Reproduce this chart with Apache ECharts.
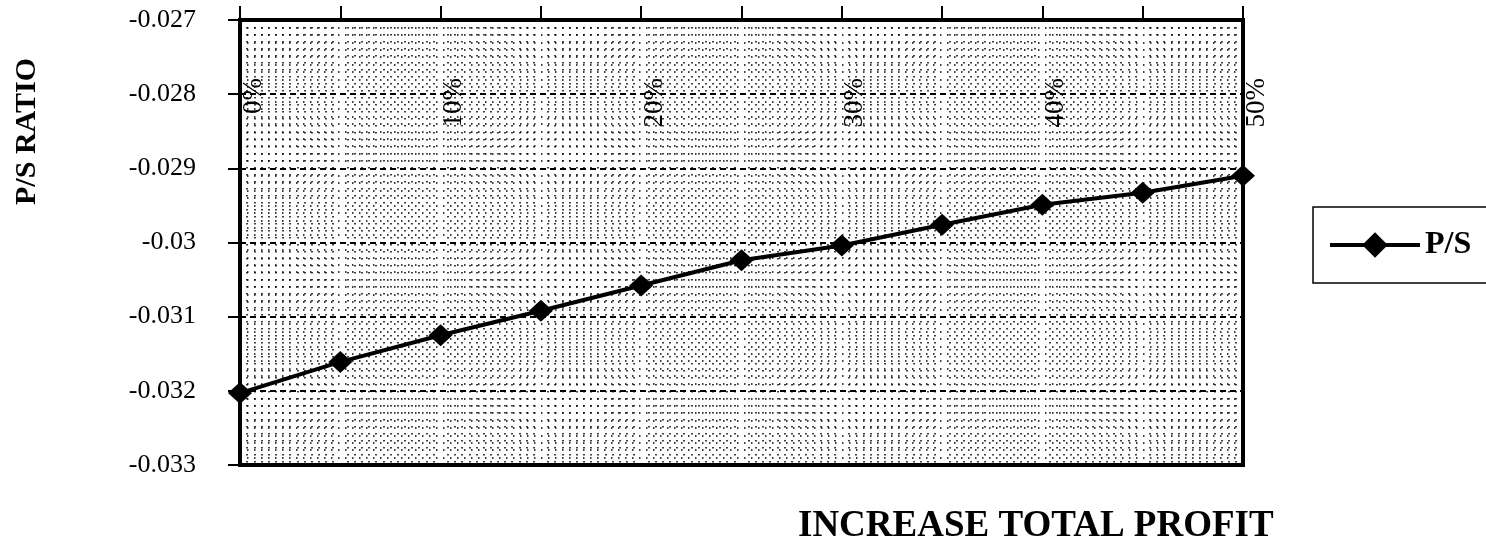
<!DOCTYPE html>
<html>
<head>
<meta charset="utf-8">
<script src="https://cdn.jsdelivr.net/npm/echarts@6/dist/echarts.min.js"></script>
<style>
  html, body { margin: 0; padding: 0; background: #fff; }
  #chart { width: 1486px; height: 552px; }
</style>
</head>
<body>
<div id="chart"></div>
<script>
// increase in total profit (%), one point every 5%
var increaseSteps = [0, 5, 10, 15, 20, 25, 30, 35, 40, 45, 50];
// P/S ratio
var psValues = [-0.03203, -0.03161, -0.03125, -0.03092, -0.03058, -0.03024,
                -0.03004, -0.02976, -0.02949, -0.02933, -0.02910];

var serif = '"Liberation Serif", "DejaVu Serif", serif';

var chart = echarts.init(document.getElementById('chart'));

chart.setOption({
    animation: false,
    backgroundColor: '#fff',
    grid: {
        left: 240, right: 243, top: 20, bottom: 87,
        show: true,
        borderColor: '#000',
        borderWidth: 4,
        backgroundColor: '#fff'
    },
    title: {
        text: 'INCREASE TOTAL PROFIT',
        left: 793, top: 503,
        textStyle: { fontFamily: serif, fontSize: 37, fontWeight: 'bold', color: '#000' }
    },
    graphic: [{
        type: 'text',
        left: 12, top: 58,
        rotation: Math.PI / 2,
        style: { text: 'P/S RATIO', font: 'bold 30px ' + serif, fill: '#000' }
    }],
    legend: {
        data: ['P/S'],
        left: 1313, top: 207,
        orient: 'vertical',
        itemWidth: 90, itemHeight: 32,
        itemGap: 6,
        padding: [22, 60, 22, 15],
        borderColor: '#000',
        borderWidth: 1.5,
        lineStyle: { width: 4 },
        textStyle: { fontFamily: serif, fontSize: 32, fontWeight: 'bold', color: '#000' }
    },
    xAxis: {
        type: 'value',
        position: 'top',
        min: 0, max: 50, interval: 5,
        axisLine: { show: true, lineStyle: { color: '#000', width: 4 } },
        axisTick: { show: true, inside: false, length: 14, lineStyle: { color: '#000', width: 2 } },
        axisLabel: {
            inside: true,
            rotate: -90,
            margin: 58,
            verticalAlign: 'top',
            fontFamily: serif, fontSize: 27, color: '#000',
            formatter: function (v) { return v % 10 === 0 ? v + '%' : ''; }
        },
        splitLine: { show: false },
        minorTick: { show: false, splitNumber: 14 },
        minorSplitLine: { show: true, lineStyle: { color: '#000', width: 1.5, type: [1.5, 5.5] } }
    },
    yAxis: {
        type: 'value',
        min: -0.033, max: -0.027, interval: 0.001,
        axisLine: { show: true, lineStyle: { color: '#000', width: 4 } },
        axisTick: { show: true, length: 12, lineStyle: { color: '#000', width: 2 } },
        axisLabel: {
            margin: 44,
            fontFamily: serif, fontSize: 26, color: '#000',
            formatter: function (v) { return String(+v.toFixed(3)); }
        },
        splitLine: { show: true, lineStyle: { color: '#000', width: 2, type: [6, 4] } },
        minorTick: { show: false, splitNumber: 10 },
        minorSplitLine: { show: true, lineStyle: { color: '#000', width: 1.5, type: [1.5, 5.5] } }
    },
    series: [{
        name: 'P/S',
        type: 'line',
        data: increaseSteps.map(function (x, i) { return [x, psValues[i]]; }),
        symbol: 'diamond',
        symbolSize: [24, 22],
        lineStyle: { color: '#000', width: 4 },
        itemStyle: { color: '#000' }
    }]
});
</script>
</body>
</html>
